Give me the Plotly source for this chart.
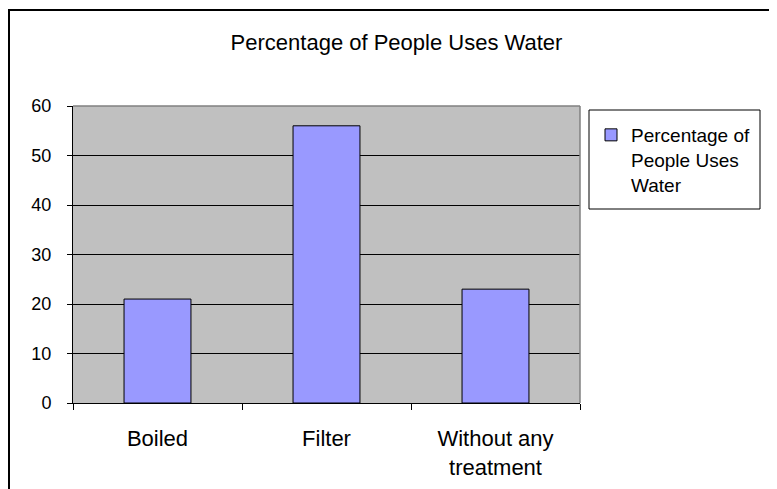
import plotly.graph_objects as go

categories = ["Boiled", "Filter", "Without any<br>treatment"]
values = [21, 56, 23]
series_name = "Percentage of<br>People Uses<br>Water"
title_text = "Percentage of People Uses Water"
y_ticks = [0, 10, 20, 30, 40, 50, 60]

W, H = 777, 489
# plot area in figure pixel coordinates
L, R, T, B = 65, 572, 98, 395

def px(x):
    return (x - L) / (R - L)

def py(y):
    return (B - y) / (B - T)

FONT = "Liberation Sans, Arial, sans-serif"

fig = go.Figure()
fig.add_trace(go.Bar(
    x=categories, y=values, name=series_name,
    marker=dict(color="#9999FF", line=dict(color="black", width=1)),
    showlegend=True,
))

shapes = [
    # outer chart border
    dict(type="rect", xref="paper", yref="paper",
         x0=px(1), x1=px(776), y0=py(2), y1=py(488),
         line=dict(color="black", width=2), layer="above"),
    # plot area gray border top and right
    dict(type="line", xref="paper", yref="paper", x0=0, x1=1, y0=1, y1=1,
         line=dict(color="#808080", width=1.5), layer="above"),
    dict(type="line", xref="paper", yref="paper", x0=1, x1=1, y0=0, y1=1,
         line=dict(color="#808080", width=1.5), layer="above"),
    # legend box
    dict(type="rect", xref="paper", yref="paper",
         x0=px(581), x1=px(752), y0=py(102), y1=py(201),
         line=dict(color="black", width=1), fillcolor="white", layer="below"),
]

fig.update_layout(
    width=W, height=H,
    margin=dict(l=L, r=W - R, t=T, b=H - B, pad=0),
    paper_bgcolor="white",
    plot_bgcolor="#C0C0C0",
    font=dict(family=FONT, size=18, color="black"),
    title=dict(text=title_text, x=0.5, xanchor="center", xref="container",
               y=1 - 34 / H, yref="container", yanchor="middle",
               font=dict(size=22, color="black")),
    bargap=0.604,
    shapes=shapes,
    showlegend=True,
    legend=dict(x=px(583), y=py(108), xanchor="left", yanchor="top",
                xref="paper", yref="paper",
                bgcolor="rgba(0,0,0,0)", borderwidth=0,
                valign="top", font=dict(size=19), tracegroupgap=0),
)

fig.update_yaxes(range=[0, 60], tickvals=y_ticks, showgrid=True,
                 gridcolor="black", gridwidth=1, zeroline=False,
                 showline=True, linecolor="black", linewidth=1,
                 ticks="outside", ticklen=5, tickcolor="black", tickwidth=1,
                 ticklabelstandoff=12, tickfont=dict(size=18))
fig.update_xaxes(showline=True, linecolor="black", linewidth=1,
                 ticks="outside", tickson="boundaries", ticklen=6,
                 tickcolor="black", tickwidth=1, showgrid=False,
                 ticklabelstandoff=16, tickfont=dict(size=22))

fig.write_html("out.html")
